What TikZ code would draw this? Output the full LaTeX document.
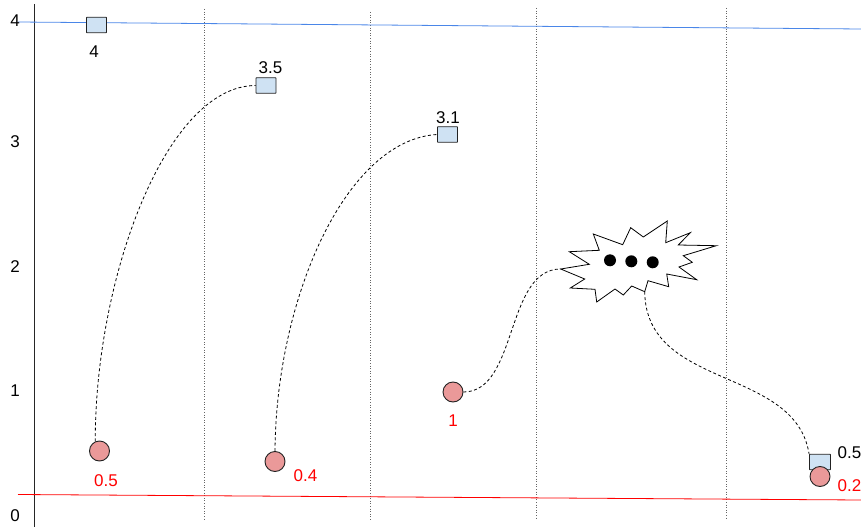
\documentclass[tikz,border=0pt]{standalone}
\usepackage{fontspec}
\setmainfont{Liberation Sans}
\definecolor{boxblue}{HTML}{CFE2F3}
\definecolor{circred}{HTML}{EA9999}
\definecolor{lineblue}{HTML}{4A86E8}
\definecolor{edgegray}{HTML}{222222}
\begin{document}
\begin{tikzpicture}[x=1pt,y=-1pt,
  valbox/.style={draw=edgegray,fill=boxblue,line width=0.9pt,minimum width=20pt,minimum height=15.5pt,inner sep=0pt,rounded corners=0.5pt},
  valdot/.style={draw=edgegray,fill=circred,line width=0.9pt,circle,minimum size=20pt,inner sep=0pt},
  blackdot/.style={fill=black,circle,minimum size=12pt,inner sep=0pt},
  lab/.style={font=\fontsize{17}{18}\selectfont,text=black,inner sep=0pt},
  redlab/.style={lab,text=red},
  link/.style={draw=black,line width=0.8pt,dash pattern=on 3pt off 2.4pt},
  guide/.style={draw=black!60,line width=0.9pt,dash pattern=on 1pt off 1.6pt}]
\useasboundingbox (0,0) rectangle (861,529);
\begin{scope}
\clip (0,0) rectangle (861,529);
% guides
\foreach \n/\gx/\ya/\yb in {g1/204/9/519,g2/370/12/521,g3/536/8/519,g4/726/8/519}{
  \coordinate (\n a) at (\gx,\ya);
  \coordinate (\n b) at (\gx,\yb);
  \draw[guide] (\n a) -- (\n b);
}
% axis and limits
\coordinate (axisT) at (34,4);
\coordinate (axisB) at (34,527);
\draw[draw=black!85,line width=0.9pt] (axisT) -- (axisB);
\coordinate (blueL) at (18,22);
\coordinate (blueR) at (861,29);
\draw[lineblue,line width=0.8pt] (blueL) -- (blueR);
\coordinate (redL) at (18,494.5);
\coordinate (redR) at (861,500);
\draw[red,line width=0.8pt] (redL) -- (redR);
% axis labels
\node[lab] (t4) at (15,21) {4};
\node[lab] (t3) at (15,142) {3};
\node[lab] (t2) at (15,267) {2};
\node[lab] (t1) at (15,391) {1};
\node[lab] (t0) at (15,516) {0};
% boxes
\node[valbox] (b1) at (96.5,25) {};
\node[valbox] (b2) at (266,85.5) {};
\node[valbox] (b3) at (447.5,134.5) {};
\node[valbox,minimum width=21pt] (b4) at (820,462) {};
\node[lab] (l1) at (94,52) {4};
\node[lab] (l2) at (270.5,68) {3.5};
\node[lab] (l3) at (448,118) {3.1};
\node[lab,anchor=west] (l4) at (837.5,453) {0.5};
% dots
\node[valdot] (c1) at (99.5,451) {};
\node[valdot] (c2) at (275,461.5) {};
\node[valdot] (c3) at (453,392) {};
\node[valdot] (c4) at (820,476.5) {};
\node[redlab] (r1) at (106,481) {0.5};
\node[redlab] (r2) at (305.5,476) {0.4};
\node[redlab] (r3) at (453,421) {1};
\node[redlab,anchor=west] (r4) at (837.5,486) {0.2};
% burst
\coordinate (bL) at (560.7,269);
\coordinate (bB) at (644.7,291.7);
\draw[draw=black,fill=white,line width=0.8pt,line join=miter] (bL) -- (589.3,264.3) -- (569.3,251.7) -- (599.3,250.3) -- (593.3,234) -- (622.7,244.7) -- (630.7,227.7) -- (643.3,237) -- (667.3,221) -- (665.7,242.7) -- (690.3,232.7) -- (678.3,245) -- (716.3,245.7) -- (683.3,255.7) -- (692.3,262.3) -- (679,267) -- (696.7,279.7) -- (666.7,274) -- (668.7,286.7) -- (648,280.7) -- (bB) -- (631.7,286) -- (623.3,295) -- (615,289) -- (596.7,302) -- (595,289.3) -- (570.3,288) -- (584.7,279) -- cycle;
\node[blackdot] (d1) at (610,260.3) {};
\node[blackdot] (d2) at (631.3,261.3) {};
\node[blackdot] (d3) at (652.7,262.3) {};
% links
\draw[link] (c1.114) .. controls (95,280) and (165,86) .. (b2.west);
\draw[link] (c2.north) .. controls (276,300) and (345,140) .. (b3.west);
\draw[link] (c3.east) .. controls (518,392) and (505,269) .. (bL);
\draw[link] (bB) .. controls (646,390) and (795,366) .. (b4.north west);
\end{scope}
\end{tikzpicture}
\end{document}
